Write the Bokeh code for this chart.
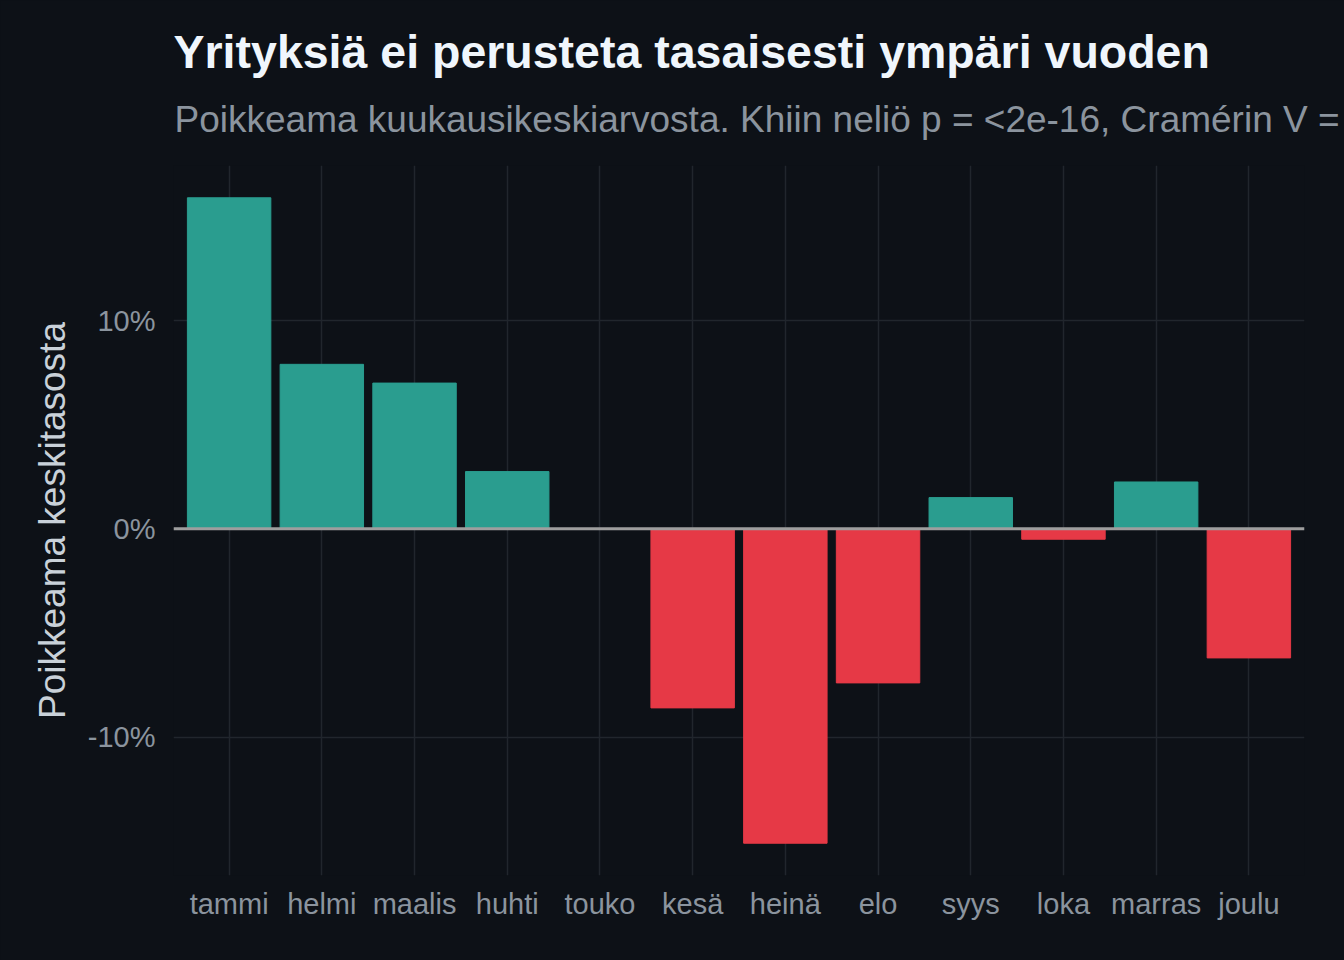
from bokeh.plotting import figure
from bokeh.models import ColumnDataSource, Span, Title, FixedTicker
from bokeh.embed import file_html
from bokeh.resources import INLINE

# ---- data ----
months = ["tammi", "helmi", "maalis", "huhti", "touko", "kesä",
          "heinä", "elo", "syys", "loka", "marras", "joulu"]
deviation_pct = [15.9, 7.9, 7.0, 2.75, 0.0, -8.6,
                 -15.1, -7.4, 1.5, -0.5, 2.25, -6.2]
y_ticks = [-10, 0, 10]
y_tick_labels = ["-10%", "0%", "10%"]

title_text = "Yrityksiä ei perusteta tasaisesti ympäri vuoden"
subtitle_text = "Poikkeama kuukausikeskiarvosta. Khiin neliö p = <2e-16, Cramérin V ="
ylabel_text = "Poikkeama keskitasosta"

# ---- style ----
BG = "#0d1117"
POS = "#2a9d8f"
NEG = "#e63946"
GRID = "#21262d"
MUTED = "#8b949e"
FONT = "Liberation Sans"

W, H = 1344, 960
ML, MR, MT, MB = 173, 40, 165, 85

colors = [POS if v >= 0 else NEG for v in deviation_pct]
src = ColumnDataSource(dict(month=months, val=deviation_pct, color=colors))

span_y = max(deviation_pct) - min(deviation_pct)
ylo = min(deviation_pct) - 0.05 * span_y
yhi = max(deviation_pct) + 0.05 * span_y

p = figure(x_range=months, y_range=(ylo, yhi), width=W, height=H,
           output_backend="svg", toolbar_location=None,
           min_border_left=ML, min_border_right=MR,
           min_border_top=MT, min_border_bottom=MB)
p.x_range.range_padding = 0.1
p.x_range.range_padding_units = "absolute"
p.background_fill_color = BG
p.border_fill_color = BG
p.outline_line_color = None

p.vbar(x="month", top="val", bottom=0, width=0.9, color="color", source=src)

zero = Span(location=0, dimension="width", line_color="#9e9e9e", line_width=3)
p.add_layout(zero)

# grids
p.xgrid.grid_line_color = GRID
p.xgrid.grid_line_width = 1.5
p.ygrid.grid_line_color = GRID
p.ygrid.grid_line_width = 1.5
p.ygrid.ticker = FixedTicker(ticks=y_ticks)

# axes
p.yaxis.ticker = FixedTicker(ticks=y_ticks)
p.yaxis.major_label_overrides = {t: l for t, l in zip(y_ticks, y_tick_labels)}
for ax in (p.xaxis[0], p.yaxis[0]):
    ax.axis_line_color = None
    ax.major_tick_line_color = None
    ax.minor_tick_line_color = None
    ax.major_label_text_color = MUTED
    ax.major_label_text_font = FONT
    ax.major_label_text_font_size = "29px"
p.yaxis.major_label_standoff = 12
p.xaxis.major_label_standoff = 6
p.yaxis.axis_label = ylabel_text
p.yaxis.axis_label_text_color = "#c9d1d9"
p.yaxis.axis_label_text_font = FONT
p.yaxis.axis_label_text_font_size = "37px"
p.yaxis.axis_label_text_font_style = "normal"
p.yaxis.axis_label_standoff = 12

# titles (subtitle first -> closest to frame)
p.add_layout(Title(text=subtitle_text, text_color=MUTED, text_font=FONT,
                   text_font_size="37px", text_font_style="normal",
                   align="left", offset=1, standoff=51), "above")
p.add_layout(Title(text=title_text, text_color="#f0f6fc", text_font=FONT,
                   text_font_size="46.5px", text_font_style="bold",
                   align="left", offset=0, standoff=-13), "above")

html = file_html(p, INLINE)
html = html.replace("</head>", "<style>html,body{background:%s;}</style></head>" % BG)
open("out.html", "w").write(html)
